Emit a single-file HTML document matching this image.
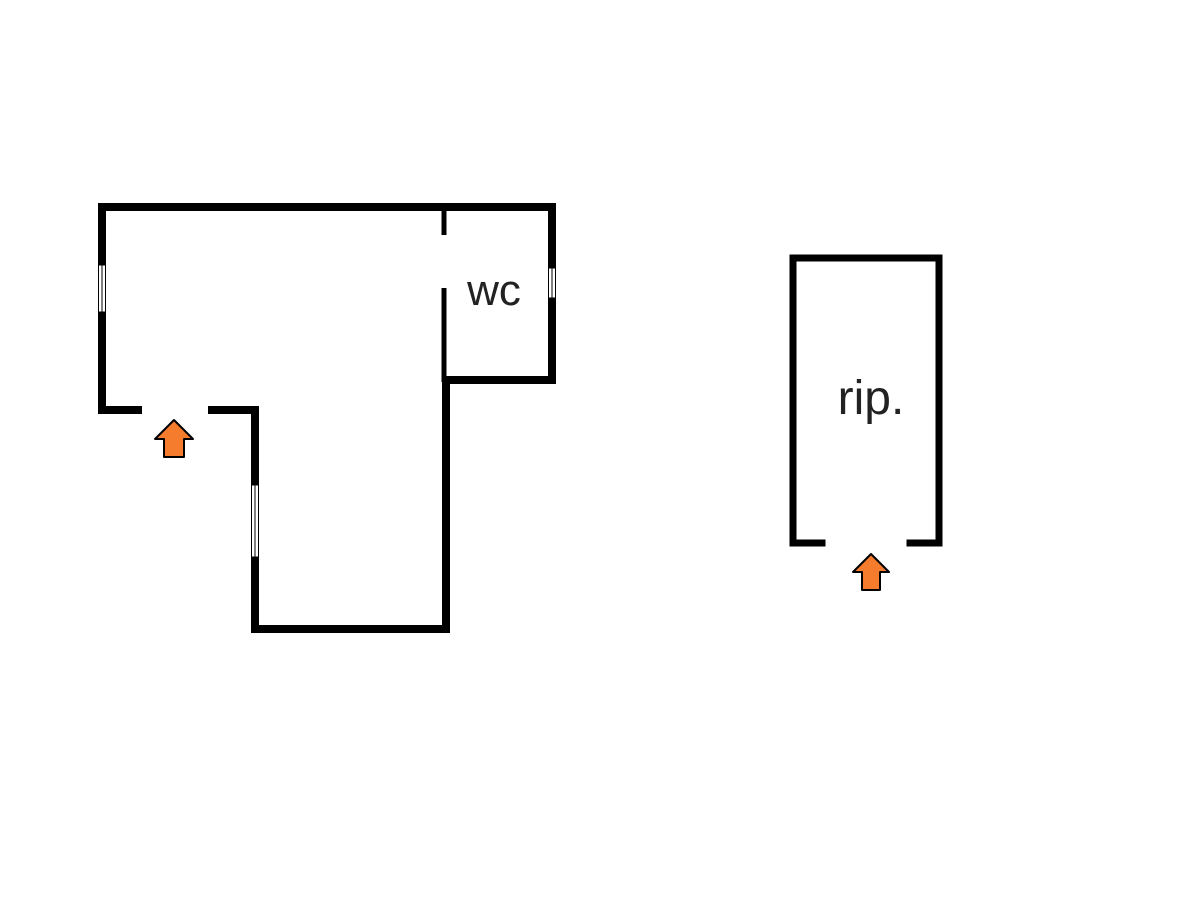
<!DOCTYPE html>
<html><head><meta charset="utf-8"><style>
html,body{margin:0;padding:0;background:#fff;width:1200px;height:900px;overflow:hidden}
</style></head><body>
<svg width="1200" height="900" viewBox="0 0 1200 900" xmlns="http://www.w3.org/2000/svg">
<rect width="1200" height="900" fill="#fff"/>
<g stroke="#000" stroke-width="8" fill="none" stroke-linecap="square">
  <polyline points="138,410 102,410 102,207 552,207 552,380 446,380"/>
  <polyline points="212,410 255,410 255,629 446,629 446,380"/>
</g>
<g stroke="#000" stroke-width="5" fill="none">
  <line x1="444" y1="207" x2="444" y2="235"/>
  <line x1="444" y1="288" x2="444" y2="382"/>
</g>
<g fill="#fff" stroke="#000" stroke-width="1">
  <rect x="98.5" y="265" width="7" height="47"/>
  <line x1="102" y1="265" x2="102" y2="312"/>
  <rect x="548.5" y="268" width="7" height="30"/>
  <line x1="552" y1="268" x2="552" y2="298"/>
  <rect x="251.5" y="485" width="7" height="72"/>
  <line x1="255" y1="485" x2="255" y2="557"/>
</g>
<polyline points="822,543 793,543 793,258 939,258 939,543 910,543" stroke="#000" stroke-width="7" fill="none" stroke-linecap="square"/>
<g fill="#f47c2c" stroke="#000" stroke-width="2" stroke-linejoin="round">
  <polygon points="174,420 193,439 184,439 184,457 164,457 164,439 155,439"/>
  <polygon points="871,554 889,572 880,572 880,590 862,590 862,572 853,572"/>
</g>
<text x="494" y="305" font-family="Liberation Sans, sans-serif" font-size="44" fill="#222" text-anchor="middle">wc</text>
<text x="871" y="414" font-family="Liberation Sans, sans-serif" font-size="48" fill="#222" text-anchor="middle">rip.</text>
</svg>
</body></html>
